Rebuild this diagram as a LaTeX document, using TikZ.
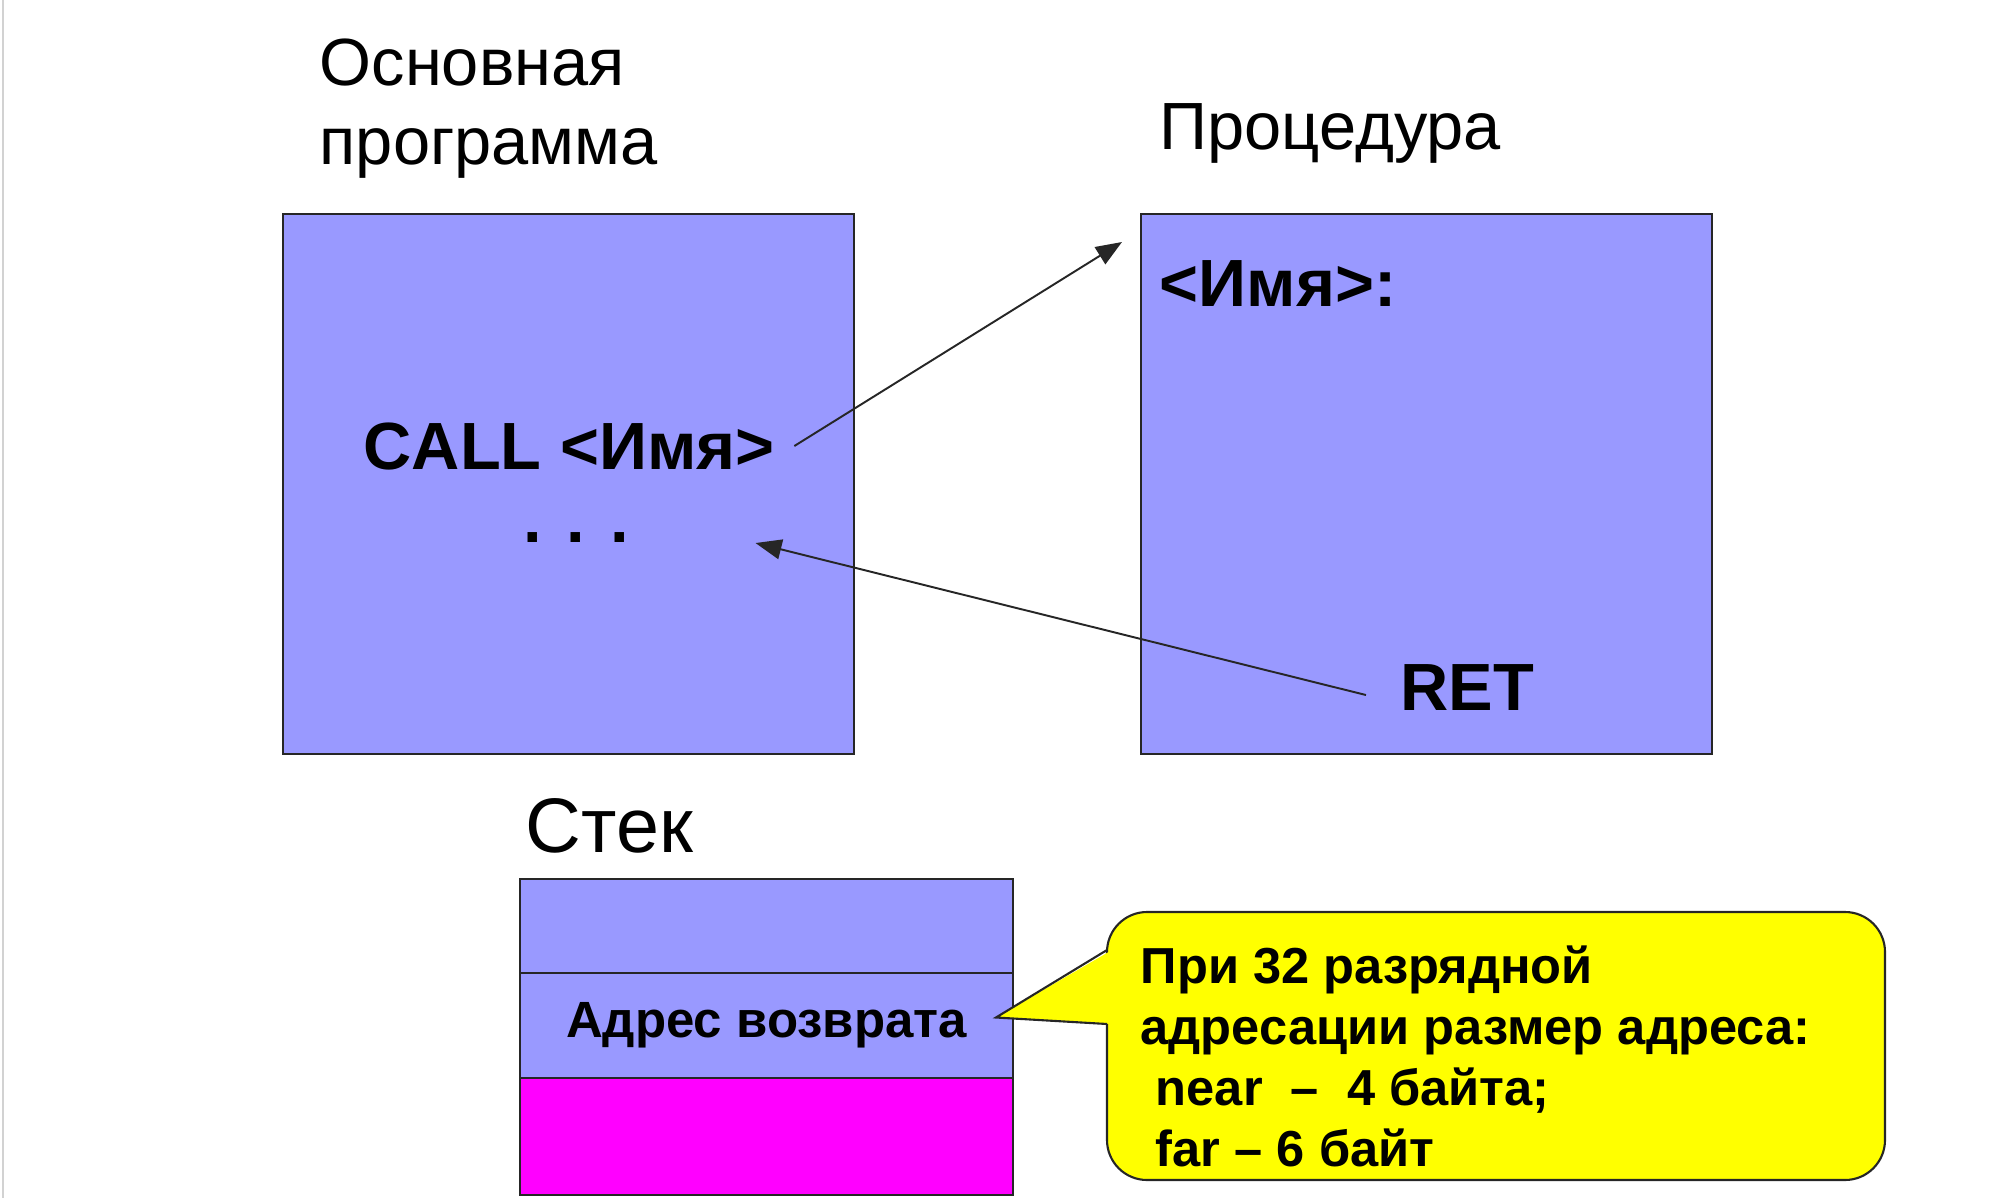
\documentclass[tikz,border=0pt]{standalone}
\usepackage{fontspec}
\setmainfont{Liberation Sans}
\usetikzlibrary{arrows.meta, positioning}
\definecolor{boxblue}{RGB}{153,153,255}
\definecolor{stackpink}{RGB}{255,0,255}
\definecolor{noteyellow}{RGB}{255,255,0}
\tikzset{
  progbox/.style={rectangle, draw=black!85, fill=boxblue, line width=0.6pt,
    minimum width=5.71cm, minimum height=5.40cm, anchor=north west},
  cell/.style={rectangle, draw=black!85, fill=boxblue, line width=0.6pt,
    minimum width=4.93cm, outer sep=0pt, inner sep=0pt},
  heading/.style={anchor=base west, inner sep=0pt, align=left,
    font=\fontsize{19pt}{22.5pt}\selectfont},
  code/.style={anchor=base west, inner sep=0pt,
    font=\fontsize{19pt}{22.5pt}\selectfont\bfseries},
  notetext/.style={anchor=north west, inner sep=0pt, align=left,
    font=\fontsize{14.4pt}{17.4pt}\selectfont\bfseries},
  callout/.style={draw=black!85, fill=noteyellow, line width=0.6pt},
  arr/.style={-{Triangle[length=0.26cm, width=0.2cm]}, line width=0.55pt, black!85},
}

\begin{document}
\begin{tikzpicture}
\useasboundingbox (0,0) rectangle (20,-11.98);
\draw[gray!35, line width=0.8pt] (0.03,0) -- (0.03,-11.98);

% headings
\node[heading, anchor=north west] (maintitle) at (3.19,-0.38) {Основная\\программа};
\node[heading] (proctitle) at (11.59,-1.49) {Процедура};
\node[heading, font=\fontsize{22pt}{26pt}\selectfont] (stacktitle) at (5.25,-8.52) {Стек};

% program and procedure
\node[progbox] (mainbox) at (2.82,-2.13) {};
\node[progbox] (procbox) at (11.40,-2.13) {};
\node[code] (call) at (3.63,-4.69) {CALL <Имя>};
\node[code] (dots) at (5.23,-5.42) {. . .};
\node[code] (name) at (11.59,-3.06) {<Имя>:};
\node[code] (ret) at (14.00,-7.10) {RET};

% stack
\node[cell, minimum height=0.94cm, anchor=north west] (stk1) at (5.20,-8.79) {};
\node[cell, minimum height=1.05cm, below=0pt of stk1,
  font=\fontsize{14.5pt}{17pt}\selectfont\bfseries] (stk2) {Адрес возврата};
\node[cell, minimum height=1.17cm, fill=stackpink, below=0pt of stk2] (stk3) {};

% note
\coordinate (tip) at ([xshift=-0.17cm, yshift=0.08cm]stk2.east);
\draw[callout, rounded corners=0.4cm] (11.07,-9.12) rectangle (18.85,-11.80);
\fill[noteyellow] (11.12,-9.50) -- (tip) -- (11.12,-10.24) -- cycle;
\draw[black!85, line width=0.6pt] (11.07,-9.50) -- (tip) -- (11.07,-10.24);
\node[notetext] (note) at (11.40,-9.45) {При 32 разрядной\\адресации размер адреса:\\\hspace*{0.3em}near\ \ –\ \ 4 байта;\\\hspace*{0.3em}far – 6 байт};

% call and return
\coordinate (entry) at (11.22,-2.42);
\draw[arr] ([xshift=0.19cm]call.east) -- (entry);
\draw[arr] ([xshift=-0.34cm, yshift=-0.08cm]ret.west) -- ([xshift=1.26cm, yshift=-0.06cm]dots.east);

\end{tikzpicture}
\end{document}
